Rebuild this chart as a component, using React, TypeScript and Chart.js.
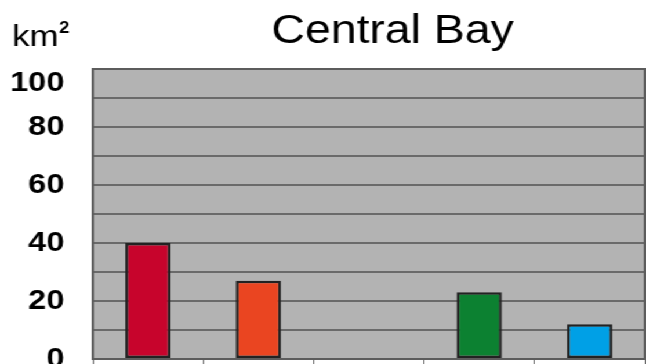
import React, { useEffect, useRef } from "react";
import { Chart, registerables } from "chart.js";

Chart.register(...registerables);

// Surface area per zone in the Central Bay, km²
const categories = ["Zone A", "Zone B", "Zone C", "Zone D", "Zone E"];
const areaKm2: (number | null)[] = [40, 27, null, 23, 12];
const barColors = ["#c7042c", "#ea4521", "#8e8e8e", "#0c8131", "#00a0e6"];
const yLabelValues = [0, 20, 40, 60, 80, 100];
const titleText = "Central Bay";
const unitBase = "km";
const unitExponent = "2";

const CANVAS_W = 557;
const CANVAS_H = 364;
const STRETCH = 646 / CANVAS_W;
const FONT = "'Liberation Sans', Arial, Helvetica, sans-serif";

const plotFrame = {
  id: "plotFrame",
  beforeDraw(chart: Chart) {
    const { ctx, chartArea } = chart;
    ctx.save();
    ctx.fillStyle = "#b3b3b3";
    ctx.fillRect(chartArea.left, chartArea.top, chartArea.right - chartArea.left, chartArea.bottom - chartArea.top);
    ctx.restore();
  },
  beforeDatasetsDraw(chart: Chart) {
    const { ctx, chartArea } = chart;
    ctx.save();
    ctx.strokeStyle = "#5c5c5c";
    ctx.lineWidth = 2;
    ctx.strokeRect(chartArea.left, chartArea.top, chartArea.right - chartArea.left, chartArea.bottom - chartArea.top);
    ctx.restore();
  },
  afterDraw(chart: Chart) {
    const { ctx, chartArea } = chart;
    const yScale = chart.scales.y;
    ctx.save();
    ctx.fillStyle = "#000";

    // Title
    ctx.font = `40px ${FONT}`;
    ctx.textAlign = "left";
    ctx.textBaseline = "alphabetic";
    ctx.fillText(titleText, 234, 43);

    // Unit with raised exponent
    ctx.font = `30px ${FONT}`;
    ctx.fillText(unitBase, 10.5, 45.5);
    const baseW = ctx.measureText(unitBase).width;
    ctx.font = `bold 16px ${FONT}`;
    ctx.fillText(unitExponent, 10.5 + baseW + 0.5, 33);

    // Value axis labels, kept inside the plot's vertical extent
    ctx.font = `bold 28px ${FONT}`;
    ctx.textAlign = "right";
    ctx.textBaseline = "middle";
    for (const v of yLabelValues) {
      const y = Math.max(yScale.getPixelForValue(v), chartArea.top + 14);
      ctx.fillText(String(v), 55.5, y);
    }
    ctx.restore();
  },
};

export default function App() {
  const canvasRef = useRef<HTMLCanvasElement | null>(null);

  useEffect(() => {
    if (!canvasRef.current) return;
    const chart = new Chart(canvasRef.current, {
      type: "bar",
      data: {
        labels: categories,
        datasets: [
          {
            data: areaKm2,
            backgroundColor: barColors,
            borderColor: "#222222",
            borderWidth: 2.5,
            borderSkipped: false,
            categoryPercentage: 1,
            barPercentage: 0.41,
          },
        ],
      },
      options: {
        responsive: false,
        animation: false,
        events: [],
        layout: { padding: { top: 69, right: 1, bottom: 0, left: 0 } },
        plugins: {
          legend: { display: false },
          title: { display: false },
          tooltip: { enabled: false },
        },
        scales: {
          x: {
            offset: true,
            ticks: { display: false },
            border: { display: false },
            grid: {
              offset: true,
              drawOnChartArea: false,
              drawTicks: true,
              tickLength: 5,
              color: "#6a6a6a",
              lineWidth: 1,
            },
            afterFit(scale: any) {
              scale.height = 5;
            },
          },
          y: {
            min: 0,
            max: 100,
            ticks: { display: false, stepSize: 10 },
            border: { display: false },
            grid: { color: "#6a6a6a", lineWidth: 2, drawTicks: false },
            afterFit(scale: any) {
              scale.width = 80;
            },
          },
        },
      },
      plugins: [plotFrame],
    });
    return () => chart.destroy();
  }, []);

  return (
    <div
      style={{
        position: "absolute",
        left: 0,
        top: 0,
        width: CANVAS_W,
        height: CANVAS_H,
        background: "#fff",
        transform: `scaleX(${STRETCH})`,
        transformOrigin: "0 0",
      }}
    >
      <canvas ref={canvasRef} width={CANVAS_W} height={CANVAS_H} />
    </div>
  );
}
